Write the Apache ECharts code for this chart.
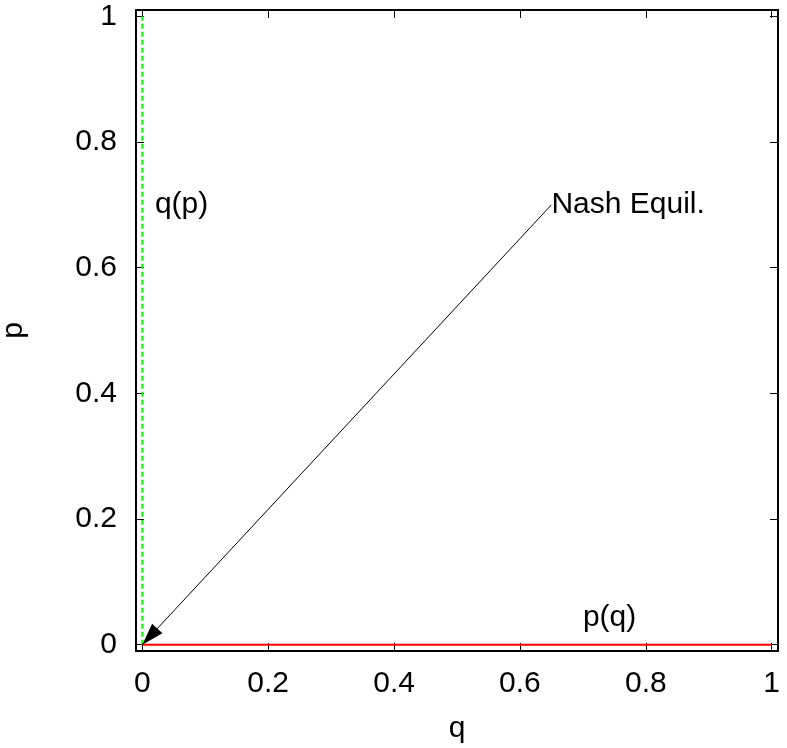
<!DOCTYPE html>
<html>
<head>
<meta charset="utf-8">
<script src="https://cdn.jsdelivr.net/npm/echarts@6/dist/echarts.min.js"></script>
<style>
  html, body { margin: 0; padding: 0; background: #fff; }
  #chart { width: 787px; height: 748px; }
</style>
</head>
<body>
<div id="chart"></div>
<script>
// tick positions, same on both axes
const tickValues = [0, 0.2, 0.4, 0.6, 0.8, 1];

// best responses
const pOfQ = [[0, 0], [1, 0]];
const qOfP = [[0, 0], [0, 1]];

// arrow and text labels
const arrowFrom = [0.65, 0.7];
const arrowTo = [0, 0];
const labelNames = ['Nash Equil.', 'q(p)', 'p(q)'];
const labelPoints = [[0.65, 0.7], [0.02, 0.7], [0.7, 0.043]];

const font = 'Liberation Sans, Arial, Helvetica, sans-serif';
const fontSize = 30;

// filled head whose tip sits at the symbol centre (empty upper half keeps it there)
const arrowHead = 'path://M7,0 M7,24 L14,48 L0,48 Z';

function makeAxis(position, showLabel, margin, extra) {
    return Object.assign({
        type: 'value',
        position: position,
        min: -0.01,
        max: 1.01,
        splitLine: {show: false},
        axisLine: {show: true, onZero: false, lineStyle: {color: '#000', width: 2}},
        axisTick: {
            show: true, inside: true, length: 8,
            customValues: tickValues,
            lineStyle: {color: '#000', width: 1}
        },
        axisLabel: {
            show: showLabel,
            customValues: tickValues,
            color: '#000',
            fontFamily: font,
            fontSize: fontSize,
            margin: margin
        }
    }, extra || {});
}

const chart = echarts.init(document.getElementById('chart'));
chart.setOption({
    backgroundColor: '#fff',
    animation: false,
    grid: {left: 136, top: 10, width: 642, height: 641, outerBoundsMode: 'none', containLabel: false},
    xAxis: [
        makeAxis('bottom', true, 18, {
            name: 'q', nameLocation: 'middle', nameGap: 63,
            nameTextStyle: {color: '#000', fontFamily: font, fontSize: fontSize}
        }),
        makeAxis('top', false, 8)
    ],
    yAxis: [
        makeAxis('left', true, 19, {
            name: 'p', nameLocation: 'middle', nameGap: 107,
            nameTextStyle: {color: '#000', fontFamily: font, fontSize: fontSize}
        }),
        makeAxis('right', false, 8)
    ],
    series: [
        {
            type: 'line',
            data: qOfP,
            symbol: 'none',
            lineStyle: {color: '#00ff00', width: 2, type: [5, 3]},
            markLine: {
                silent: true,
                symbol: ['none', arrowHead],
                symbolSize: [14, 44],
                label: {show: false},
                lineStyle: {color: '#000', width: 1, type: 'solid'},
                data: [[{coord: arrowFrom}, {coord: arrowTo}]]
            }
        },
        {
            type: 'line',
            data: pOfQ,
            symbol: 'none',
            lineStyle: {color: '#ff0000', width: 2}
        },
        {
            type: 'scatter',
            symbolSize: 0,
            itemStyle: {color: '#000', opacity: 1},
            data: labelNames.map((n, i) => ({name: n, value: labelPoints[i]})),
            label: {
                show: true,
                position: 'right',
                distance: 0,
                formatter: '{b}',
                color: '#000',
                opacity: 1,
                fontFamily: font,
                fontSize: fontSize
            }
        }
    ]
});
</script>
</body>
</html>
